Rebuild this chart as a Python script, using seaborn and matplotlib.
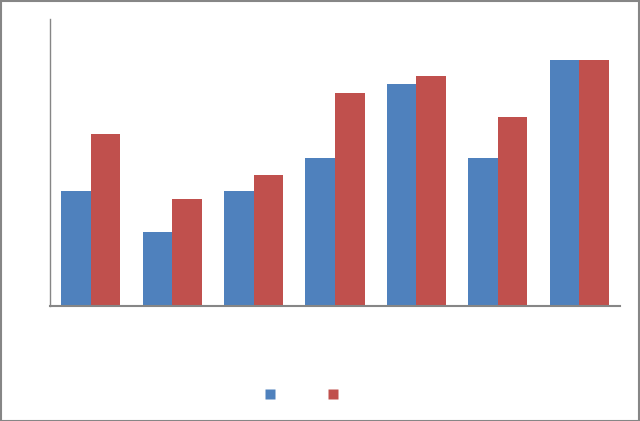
import matplotlib
matplotlib.use("Agg")
import matplotlib.pyplot as plt
from matplotlib.lines import Line2D
import seaborn as sns
import pandas as pd

categories = ["A", "B", "C", "D", "E", "F", "G"]
series_names = ["Series1", "Series2"]
series1 = [2.8, 1.8, 2.8, 3.6, 5.4, 3.6, 6.0]
series2 = [4.2, 2.6, 3.2, 5.2, 5.6, 4.6, 6.0]
colors = ["#4F81BD", "#C0504D"]

df = pd.DataFrame({
    "category": categories * 2,
    "value": series1 + series2,
    "series": [series_names[0]] * len(categories) + [series_names[1]] * len(categories),
})

sns.set_style("white")
fig = plt.figure(figsize=(6.4, 4.21), dpi=100)
ax = fig.add_axes([50 / 640, 1 - 305.5 / 421, 570 / 640, 286.5 / 421])
sns.barplot(data=df, x="category", y="value", hue="series", palette=colors,
            width=0.725, saturation=1, ax=ax, legend=False, errorbar=None)
ax.set_xlim(-0.5, 6.5)
ax.set_ylim(0, 7)
ax.set_xlabel("")
ax.set_ylabel("")
ax.tick_params(axis="both", length=0, colors="white", labelsize=9)
for s in ["top", "right"]:
    ax.spines[s].set_visible(False)
ax.spines["left"].set_color("#868686")
ax.spines["left"].set_linewidth(1.0)
ax.spines["bottom"].set_color("#868686")
ax.spines["bottom"].set_linewidth(1.5)
for p in ax.patches:
    p.set_edgecolor("none")

handles = [Line2D([0], [0], marker="s", linestyle="none", markersize=6.5,
                  markerfacecolor=c, markeredgecolor="none") for c in colors]
leg = fig.legend(handles, series_names, loc="center", bbox_to_anchor=(0.505, 1 - 395 / 421),
                 ncol=2, frameon=False, fontsize=8, handletextpad=0.2, columnspacing=0.3,
                 handlelength=1.5, labelcolor="white", borderpad=0)

# outer border
fig.patches.append(plt.Rectangle((0.001, 0.001), 0.997, 0.997, transform=fig.transFigure,
                                 fill=False, edgecolor="#868686", linewidth=1.5))
fig.savefig("out.png", dpi=100)
